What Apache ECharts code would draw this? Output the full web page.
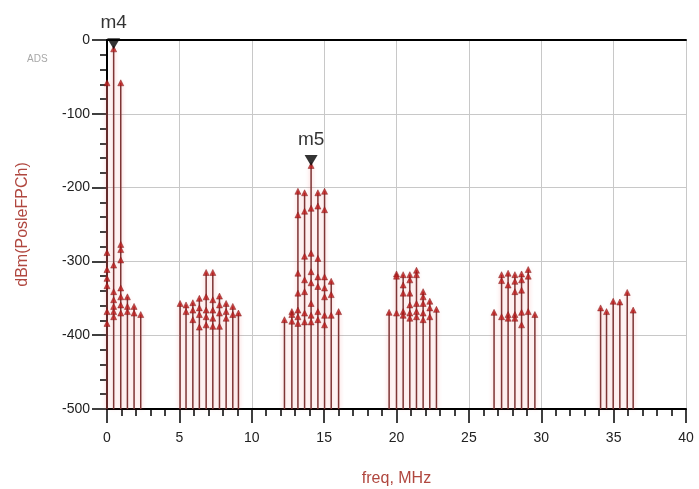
<!DOCTYPE html>
<html>
<head>
<meta charset="utf-8">
<script src="https://cdn.jsdelivr.net/npm/echarts@6/dist/echarts.min.js"></script>
<style>
  html, body { margin: 0; padding: 0; background: #fff; }
  #chart { width: 699px; height: 489px; }
</style>
</head>
<body>
<div id="chart"></div>
<script>
// spectrum lines, MHz
const stemFreq = [
  0, 0.46, 0.95, 1.41, 1.87, 2.33,
  5.05, 5.46, 5.93, 6.38, 6.85, 7.31, 7.77, 8.23, 8.69, 9.08,
  12.26, 12.77, 13.19, 13.65, 14.1, 14.57, 15.03, 15.49, 16.0,
  19.49, 20.0, 20.46, 20.92, 21.38, 21.84, 22.3, 22.76,
  26.74, 27.26, 27.71, 28.18, 28.64, 29.1, 29.56,
  34.1, 34.51, 34.97, 35.43, 35.94, 36.35
];
// levels (dBm) sampled at each line
const stemLevels = [
  [-58, -288, -311, -323, -333, -368, -384],
  [-12, -305, -341, -352, -361, -368, -375],
  [-58, -277, -284, -298, -336, -348, -359, -370],
  [-348, -361, -368],
  [-361, -370],
  [-372],
  [-357],
  [-359, -368],
  [-356, -366, -379],
  [-350, -363, -372, -389],
  [-315, -348, -366, -375, -386],
  [-315, -352, -366, -377, -388],
  [-347, -359, -370, -388],
  [-357, -368, -377],
  [-361, -372],
  [-370],
  [-379],
  [-368, -372, -381],
  [-205, -237, -316, -343, -366, -375, -384],
  [-207, -232, -293, -325, -341, -370, -382],
  [-170, -228, -289, -314, -329, -357, -373, -382],
  [-207, -225, -296, -321, -334, -368, -379],
  [-205, -230, -321, -336, -348, -373, -386],
  [-327, -345, -373],
  [-368],
  [-369],
  [-317, -320, -370],
  [-318, -332, -343, -368, -373],
  [-318, -325, -343, -359, -370, -377],
  [-312, -318, -357, -368, -375],
  [-341, -348, -357, -370, -379],
  [-354, -363, -375],
  [-365],
  [-369],
  [-318, -326, -375],
  [-316, -332, -372, -377],
  [-318, -327, -341, -372, -377],
  [-317, -325, -339, -369, -386],
  [-311, -320, -368],
  [-372],
  [-363],
  [-368],
  [-354],
  [-355],
  [-342],
  [-366]
];
const markerName = ['m4', 'm5'];
const markerFreq = [0.46, 14.1];
const markerLevel = [-12, -170];

const yBottom = -500;
const xTicks = [0, 5, 10, 15, 20, 25, 30, 35, 40];
const yTicks = [0, -100, -200, -300, -400, -500];

const stems = stemFreq.map((f, i) => [f, Math.max(...stemLevels[i])]);
const points = [];
stemFreq.forEach((f, i) => stemLevels[i].forEach(v => points.push([f, v])));
const markers = markerFreq.map((f, i) => ({ name: markerName[i], value: [f, markerLevel[i]] }));

const chart = echarts.init(document.getElementById('chart'));
const font = '"Liberation Sans", Arial, sans-serif';

chart.setOption({
  animation: false,
  title: {
    text: 'ADS', left: 22, top: 49,
    textStyle: { color: '#a8a8a8', fontSize: 10, fontWeight: 'normal', fontFamily: font }
  },
  grid: { left: 107, right: 13, top: 40, bottom: 80, outerBoundsMode: 'none' },
  xAxis: [{
    type: 'value', min: 0, max: 40, interval: 5,
    name: 'freq, MHz', nameLocation: 'middle', nameGap: 62,
    nameTextStyle: { color: '#b0473f', fontSize: 16, fontFamily: font },
    axisLine: { onZero: false, lineStyle: { color: '#000', width: 2 } },
    axisTick: { length: 14, lineStyle: { color: '#000', width: 1.5 } },
    minorTick: { show: true, splitNumber: 5, length: 7, lineStyle: { color: '#000', width: 1.5 } },
    axisLabel: {
      margin: 22, color: '#222', fontSize: 14, fontFamily: font,
      formatter: v => xTicks.includes(v) ? String(v) : ''
    },
    splitLine: { show: true, lineStyle: { color: '#c8c8c8', width: 1 } }
  }, {
    type: 'value', position: 'top', min: 0, max: 40,
    axisLine: { show: true, lineStyle: { color: '#000', width: 2 } },
    axisTick: { show: false }, axisLabel: { show: false }, splitLine: { show: false }
  }],
  yAxis: {
    type: 'value', min: yBottom, max: 0, interval: 100,
    name: 'dBm(PosleFPCh)', nameLocation: 'middle', nameGap: 76, nameRotate: 90,
    nameTextStyle: { color: '#b0473f', fontSize: 16, fontFamily: font },
    axisLine: { show: true, onZero: false, lineStyle: { color: '#000', width: 2 } },
    axisTick: { show: true, length: 15, lineStyle: { color: '#000', width: 1.5 } },
    minorTick: { show: true, splitNumber: 5, length: 7, lineStyle: { color: '#000', width: 1.5 } },
    axisLabel: {
      margin: 17, color: '#222', fontSize: 14, fontFamily: font,
      formatter: v => yTicks.includes(v) ? String(v) : ''
    },
    splitLine: { show: true, lineStyle: { color: '#c8c8c8', width: 1 } }
  },
  series: [{
    type: 'custom',
    data: stems,
    renderItem: (params, api) => {
      const p0 = api.coord([api.value(0), yBottom]);
      const p1 = api.coord([api.value(0), api.value(1)]);
      return {
        type: 'line',
        shape: { x1: p0[0], y1: p0[1], x2: p1[0], y2: p1[1] },
        style: {
          stroke: '#7e3535', lineWidth: 1.5,
          shadowColor: 'rgba(240,90,90,0.45)', shadowBlur: 4
        }
      };
    }
  }, {
    type: 'scatter',
    data: points,
    symbol: 'triangle',
    symbolSize: [6, 6],
    itemStyle: { color: '#c01c1c', borderColor: '#7e1818', borderWidth: 0.6 },
    z: 3
  }, {
    type: 'scatter',
    data: markers,
    symbol: 'triangle',
    symbolRotate: 180,
    symbolSize: [13, 11],
    symbolOffset: [0, -5],
    itemStyle: { color: '#000' },
    label: {
      show: true, position: 'top', distance: 6,
      formatter: p => p.name,
      color: '#000', fontSize: 19, fontFamily: font
    },
    z: 5
  }]
});
</script>
</body>
</html>
